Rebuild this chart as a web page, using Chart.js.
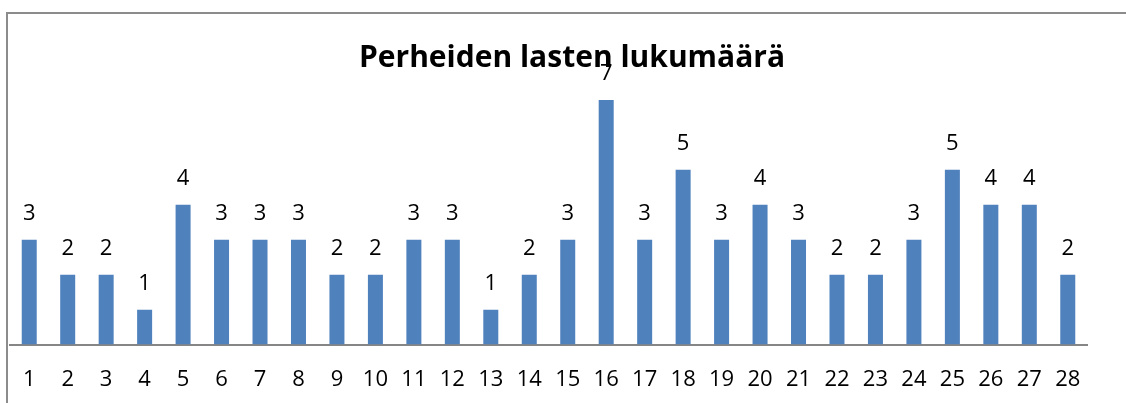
<!DOCTYPE html>
<html>
<head>
<meta charset="utf-8">
<script src="https://cdn.jsdelivr.net/npm/chart.js@4"></script>
<style>
  html, body { margin: 0; padding: 0; background: #fff; }
  #wrap { position: relative; width: 1126px; height: 403px; overflow: hidden; }
</style>
</head>
<body>
<div id="wrap"><canvas id="chart" width="1126" height="426"></canvas></div>
<script>
const categories = ["1","2","3","4","5","6","7","8","9","10","11","12","13","14","15","16","17","18","19","20","21","22","23","24","25","26","27","28"];
const childCounts = [3,2,2,1,4,3,3,3,2,2,3,3,1,2,3,7,3,5,3,4,3,2,2,3,5,4,4,2];
const chartTitle = "Perheiden lasten lukumäärä";

const fontFamily = "'Open Sans', 'Liberation Sans', sans-serif";

// frame, title and value labels
const decorations = {
  id: "decorations",
  beforeDraw(chart) {
    const ctx = chart.ctx;
    ctx.save();
    ctx.strokeStyle = "#8c8c8c";
    ctx.lineWidth = 2;
    ctx.beginPath();
    ctx.moveTo(7, 426);
    ctx.lineTo(7, 13);
    ctx.lineTo(1126, 13);
    ctx.stroke();
    ctx.restore();
  },
  afterDraw(chart) {
    const ctx = chart.ctx;
    ctx.save();
    ctx.fillStyle = "#000";
    ctx.textAlign = "center";
    ctx.textBaseline = "middle";
    ctx.font = "22px " + fontFamily;
    const meta = chart.getDatasetMeta(0);
    meta.data.forEach((bar, i) => {
      ctx.fillText(String(childCounts[i]), bar.x, bar.y - 26);
    });
    ctx.font = "bold 30px " + fontFamily;
    ctx.fillText(chartTitle, 572, 58);
    ctx.restore();
  }
};

new Chart(document.getElementById("chart"), {
  type: "bar",
  data: {
    labels: categories,
    datasets: [{
      data: childCounts,
      backgroundColor: "#4f81bd",
      barPercentage: 0.39,
      categoryPercentage: 1
    }]
  },
  options: {
    responsive: false,
    animation: false,
    layout: { padding: { top: 65, left: 10, right: 39, bottom: 11 } },
    plugins: {
      legend: { display: false },
      tooltip: { enabled: false }
    },
    scales: {
      x: {
        grid: { display: false, drawTicks: false },
        border: { display: true, color: "#868686", width: 2 },
        ticks: {
          color: "#000",
          padding: 22,
          maxRotation: 0,
          autoSkip: false,
          font: { family: fontFamily, size: 22 }
        }
      },
      y: {
        display: false,
        min: 0,
        max: 8
      }
    }
  },
  plugins: [decorations]
});
</script>
</body>
</html>
